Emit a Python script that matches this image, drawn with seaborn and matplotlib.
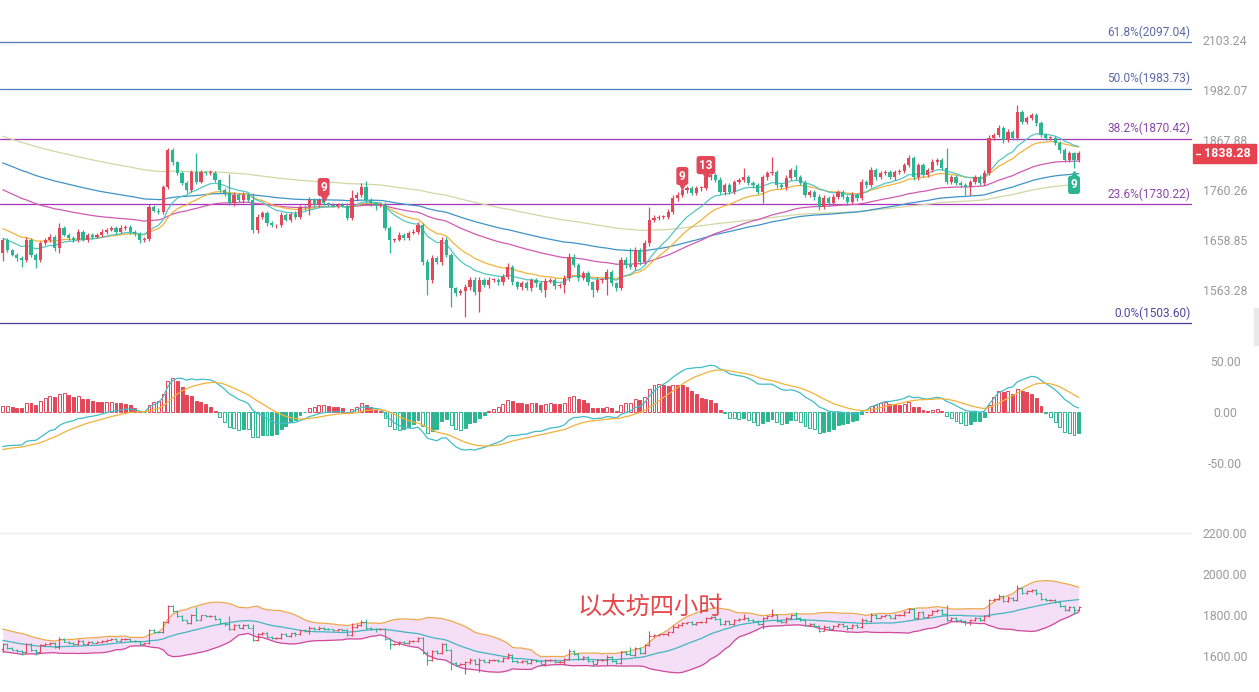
import numpy as np
import pandas as pd
import matplotlib
matplotlib.use("Agg")
import matplotlib.pyplot as plt
import matplotlib.transforms as mtrans
from matplotlib.patches import Rectangle
from matplotlib.ticker import FixedLocator, FixedFormatter, NullLocator
import seaborn as sns

# ---------------- data ----------------
# closes before the visible window (only feed the EMAs / MACD / BOLL)
warmup_close = [
    2045, 2060, 2052, 2040, 2058, 2065, 2048, 2055, 2042, 2050,
    2060, 2047, 2038, 2052, 2066, 2058, 2045, 2040, 2055, 2062,
    2050, 2044, 2057, 2061, 2049, 2053, 2040, 2046, 2059, 2052,
    2048, 2056, 2043, 2050, 2062, 2054, 2047, 2041, 2053, 2045,
    2045, 2038, 2050, 2036, 2042, 2030, 2044, 2028, 2036, 2040,
    2025, 2038, 2032, 2020, 2035, 2028, 2040, 2024, 2030, 2034,
    2022, 2036, 2028, 2018, 2030, 2025, 2033, 2020, 2028, 2022,
    2030, 2017, 2026, 2032, 2015, 2024, 2028, 2012, 2020, 2010,
    2005, 1998, 2000, 1990, 1995, 1985, 1992, 1980, 1986, 1975,
    1982, 1970, 1978, 1965, 1972, 1960, 1968, 1958, 1962, 1950,
    1945, 1935, 1938, 1925, 1920, 1915, 1922, 1905, 1910, 1900,
    1895, 1885, 1888, 1875, 1870, 1865, 1868, 1855, 1860, 1845,
    1845, 1832, 1835, 1822, 1818, 1825, 1810, 1815, 1802, 1795,
    1790, 1778, 1772, 1765, 1768, 1755, 1752, 1745, 1748, 1735,
    1730, 1722, 1718, 1712, 1705, 1700, 1708, 1695, 1690, 1685,
    1675, 1668, 1660, 1662, 1652, 1645, 1650, 1640, 1646, 1633,
]
close = [
    1659, 1639, 1630, 1624, 1620, 1659, 1630, 1620, 1653, 1659,
    1665, 1643, 1683, 1669, 1663, 1659, 1675, 1659, 1669, 1665,
    1669, 1675, 1679, 1683, 1675, 1683, 1685, 1675, 1671, 1659,
    1661, 1726, 1717, 1715, 1766, 1845, 1819, 1796, 1775, 1760,
    1798, 1777, 1798, 1796, 1796, 1781, 1760, 1754, 1733, 1750,
    1739, 1750, 1739, 1679, 1705, 1713, 1692, 1688, 1688, 1709,
    1699, 1711, 1705, 1726, 1724, 1739, 1730, 1739, 1733, 1730,
    1728, 1730, 1728, 1703, 1743, 1750, 1766, 1739, 1733, 1730,
    1730, 1683, 1659, 1659, 1669, 1663, 1673, 1675, 1688, 1616,
    1582, 1624, 1616, 1659, 1630, 1567, 1558, 1562, 1569, 1582,
    1560, 1582, 1573, 1582, 1582, 1578, 1588, 1607, 1578, 1569,
    1576, 1567, 1582, 1576, 1563, 1580, 1582, 1571, 1573, 1586,
    1626, 1610, 1586, 1595, 1578, 1563, 1582, 1582, 1597, 1576,
    1567, 1620, 1610, 1607, 1639, 1616, 1653, 1699, 1703, 1705,
    1705, 1715, 1743, 1750, 1760, 1764, 1754, 1764, 1764, 1787,
    1792, 1781, 1756, 1770, 1756, 1777, 1781, 1787, 1775, 1770,
    1756, 1787, 1796, 1798, 1770, 1766, 1785, 1802, 1787, 1775,
    1750, 1756, 1746, 1724, 1743, 1733, 1746, 1756, 1746, 1735,
    1750, 1743, 1777, 1770, 1802, 1787, 1796, 1798, 1787, 1798,
    1800, 1813, 1828, 1787, 1813, 1792, 1802, 1819, 1824, 1806,
    1777, 1787, 1775, 1770, 1766, 1777, 1787, 1775, 1796, 1872,
    1878, 1894, 1867, 1885, 1872, 1930, 1908, 1917, 1924, 1905,
    1878, 1872, 1872, 1861, 1845, 1824, 1838, 1824, 1838.28,
]
upper_wick = [
    4, 3, 3, 4, 3, 5, 3, 4, 4, 3,
    5, 3, 9, 4, 3, 4, 6, 3, 4, 3,
    4, 5, 3, 4, 3, 6, 4, 3, 3, 4,
    3, 5, 4, 6, 5, 5, 4, 3, 4, 3,
    5, 40, 4, 3, 6, 4, 3, 4, 40, 5,
    4, 5, 4, 15, 5, 4, 3, 4, 3, 5,
    4, 3, 5, 3, 4, 7, 4, 5, 4, 3,
    4, 3, 4, 6, 17, 5, 9, 13, 4, 3,
    4, 5, 3, 4, 5, 3, 4, 5, 6, 4,
    6, 5, 4, 6, 5, 4, 3, 4, 5, 6,
    5, 6, 4, 5, 3, 4, 5, 8, 4, 3,
    4, 5, 4, 3, 4, 5, 4, 3, 4, 5,
    8, 5, 4, 5, 4, 3, 5, 4, 6, 4,
    3, 6, 5, 33, 6, 5, 6, 25, 5, 4,
    4, 5, 6, 5, 6, 4, 5, 4, 5, 2,
    5, 4, 6, 5, 4, 5, 4, 19, 5, 4,
    4, 5, 4, 32, 5, 4, 6, 5, 11, 4,
    5, 4, 4, 5, 6, 4, 5, 5, 4, 4,
    5, 4, 6, 4, 6, 4, 5, 4, 4, 5,
    4, 5, 6, 5, 4, 5, 4, 6, 5, 4,
    43, 5, 4, 4, 5, 4, 5, 4, 6, 6,
    5, 6, 4, 6, 5, 16, 5, 4, 5, 4,
    4, 5, 4, 5, 4, 5, 5, 4, 5,
]
lower_wick = [
    15, 4, 3, 5, 13, 4, 5, 15, 4, 3,
    4, 5, 10, 3, 4, 5, 4, 3, 5, 4,
    3, 4, 5, 3, 4, 3, 4, 5, 4, 6,
    5, 4, 3, 4, 5, 4, 5, 4, 5, 6,
    4, 5, 3, 4, 5, 4, 5, 6, 4, 5,
    4, 5, 4, 6, 6, 4, 5, 4, 5, 4,
    3, 4, 5, 4, 5, 15, 4, 5, 4, 3,
    4, 5, 4, 5, 4, 5, 4, 5, 6, 11,
    4, 5, 26, 4, 3, 5, 4, 3, 5, 6,
    28, 5, 4, 6, 5, 35, 5, 4, 48, 6,
    5, 37, 4, 5, 4, 5, 6, 4, 5, 4,
    5, 4, 5, 6, 4, 13, 4, 5, 4, 15,
    5, 4, 6, 4, 5, 13, 4, 5, 28, 5,
    6, 4, 5, 4, 6, 5, 4, 5, 4, 5,
    4, 5, 4, 5, 4, 6, 5, 4, 5, 4,
    5, 4, 5, 6, 4, 5, 4, 5, 4, 5,
    4, 23, 5, 4, 5, 4, 6, 4, 5, 4,
    5, 4, 6, 5, 4, 5, 4, 5, 4, 6,
    4, 5, 4, 5, 4, 6, 4, 5, 4, 5,
    4, 5, 4, 6, 5, 4, 5, 4, 5, 4,
    5, 4, 5, 4, 16, 16, 5, 4, 5, 4,
    4, 5, 6, 4, 5, 4, 5, 4, 5, 6,
    5, 4, 5, 4, 6, 5, 4, 18, 5,
]
ema_spans = [13, 21, 55, 89, 144]
main_ticks = [2103.24, 1982.07, 1867.88, 1760.26, 1658.85, 1563.28]
main_tick_labels = ["2103.24", "1982.07", "1867.88", "1760.26", "1658.85", "1563.28"]
fib_levels = [2097.04, 1983.73, 1870.42, 1730.22, 1503.60]
fib_labels = ["61.8%(2097.04)", "50.0%(1983.73)", "38.2%(1870.42)", "23.6%(1730.22)", "0.0%(1503.60)"]
macd_ticks = [50, 0, -50]
macd_tick_labels = ["50.00", "0.00", "-50.00"]
boll_ticks = [2200, 2000, 1800, 1600]
boll_tick_labels = ["2200.00", "2000.00", "1800.00", "1600.00"]
last_price = 1838.28
td_marks = [(68, "9", "sell"), (144, "9", "sell"), (149, "13", "sell"), (227, "9", "buy")]
title_text = "以太坊四小时"

# ---------------- style ----------------
RED = "#e2485a"
GREEN = "#2bb592"
EMA_COLORS = {13: "#55c6c2", 21: "#f1b43c", 55: "#d05ab2", 89: "#3e93c7", 144: "#cfd8a4"}
FIB_LINE = ["#4a7cc2", "#4a7cc2", "#a534ba", "#a534ba", "#4b3a9e"]
FIB_TEXT = ["#5b6aa6", "#5b6aa6", "#8a48a8", "#8a48a8", "#4c48a0"]
TICK_COLOR = "#9a9a9a"

sns.set_style("white")
plt.rcParams["font.family"] = ["Roboto", "DejaVu Sans"]

W, H = 1259, 692
fig = plt.figure(figsize=(W / 100, H / 100), dpi=100)


def rect(left, top, right, bottom):
    return [left / W, 1 - bottom / H, (right - left) / W, (bottom - top) / H]


ax1 = fig.add_axes(rect(0, 0, 1192, 335))
ax2 = fig.add_axes(rect(0, 340, 1192, 490))
ax3 = fig.add_axes(rect(0, 520, 1192, 692))

# ---------------- computations ----------------
n_w = len(warmup_close)
full = pd.Series(warmup_close + close, dtype=float)
o = full.shift(1).iloc[n_w:].to_numpy()
c = np.array(close, dtype=float)
hi = np.maximum(o, c) + np.array(upper_wick)
lo = np.minimum(o, c) - np.array(lower_wick)
idx = np.arange(len(close))
is_up = c >= o
cols = np.where(is_up, RED, GREEN)

emas = {p: full.ewm(span=p, adjust=False).mean().iloc[n_w:].to_numpy() for p in ema_spans}

ema12 = full.ewm(span=12, adjust=False).mean()
ema26 = full.ewm(span=26, adjust=False).mean()
dif_full = ema12 - ema26
dea_full = dif_full.ewm(span=9, adjust=False).mean()
hist_full = 2 * (dif_full - dea_full)
dif = dif_full.iloc[n_w:].to_numpy()
dea = dea_full.iloc[n_w:].to_numpy()
hist = hist_full.iloc[n_w:].to_numpy()
hist_prev = hist_full.iloc[n_w - 1:-1].to_numpy()

mid_full = full.rolling(20).mean()
sd_full = full.rolling(20).std(ddof=0)
boll_mid = mid_full.iloc[n_w:].to_numpy()
boll_up = (mid_full + 2 * sd_full).iloc[n_w:].to_numpy()
boll_dn = (mid_full - 2 * sd_full).iloc[n_w:].to_numpy()

XLIM = (-0.572, 252.0)

# ---------------- main panel ----------------
ax1.set_yscale("log")
ax1.set_ylim(1482.4, 2204.1)
for lvl, lc in zip(fib_levels, FIB_LINE):
    ax1.axhline(lvl, color=lc, lw=0.9, zorder=1)
for lvl, lab, tc in zip(fib_levels, fib_labels, FIB_TEXT):
    ax1.annotate(lab, xy=(0.9985, lvl), xycoords=ax1.get_yaxis_transform(),
                 xytext=(0, 2.5), textcoords="offset points", ha="right", va="bottom",
                 fontsize=8.6, color=tc)

for p in ema_spans[::-1]:
    sns.lineplot(x=idx, y=emas[p], ax=ax1, color=EMA_COLORS[p], linewidth=0.9,
                 legend=False, zorder=3)

ax1.vlines(idx, lo, hi, colors=cols, linewidth=0.9, zorder=4)
body_bottom = np.minimum(o, c)
body_h = np.maximum(np.abs(c - o), 1.5)
ax1.bar(idx, body_h, bottom=body_bottom, width=0.68, color=cols, linewidth=0, zorder=5)

# TD sequential style markers
for i, lab, kind in td_marks:
    if kind == "sell":
        col, y, dy, tri = RED, hi[i], 8.0, "v"
    else:
        col, y, dy, tri = GREEN, lo[i], -12, "^"
    ax1.annotate(lab, xy=(i, y), xytext=(0, dy), textcoords="offset points",
                 ha="center", va="center", fontsize=8.5, fontweight="bold", color="white",
                 bbox=dict(boxstyle="round,pad=0.22", fc=col, ec="none"), zorder=7)
    tr = mtrans.offset_copy(ax1.transData, fig=fig, x=0, y=(dy - 7.5 if dy > 0 else dy + 7.5),
                            units="points")
    ax1.plot([i], [y], marker=tri, ms=4, color=col, transform=tr, zorder=7, clip_on=False)

# ---------------- MACD panel ----------------
ax2.set_ylim(-76.5, 70.6)
growing = np.abs(hist) > np.abs(hist_prev)
mcols = np.where(hist >= 0, RED, GREEN)
faces = np.where(growing, "white", mcols)
ax2.bar(idx, hist, width=0.62, color=faces, edgecolor=mcols, linewidth=0.7, zorder=2)
sns.lineplot(x=idx, y=dif, ax=ax2, color="#3fbdc8", linewidth=0.9, legend=False, zorder=3)
sns.lineplot(x=idx, y=dea, ax=ax2, color="#f0b23a", linewidth=0.9, legend=False, zorder=3)

# ---------------- BOLL panel ----------------
ax3.set_ylim(1424.4, 2263.4)
ax3.axhline(2200, color="#eeeeee", lw=1, zorder=0)
ax3.fill_between(idx, boll_dn, boll_up, color="#f5dff6", lw=0, zorder=1)
sns.lineplot(x=idx, y=boll_up, ax=ax3, color="#eea84c", linewidth=0.9, legend=False, zorder=2)
sns.lineplot(x=idx, y=boll_dn, ax=ax3, color="#d0489c", linewidth=0.9, legend=False, zorder=2)
sns.lineplot(x=idx, y=boll_mid, ax=ax3, color="#45b4c2", linewidth=0.9, legend=False, zorder=2)
ax3.vlines(idx, lo, hi, colors=cols, linewidth=0.8, zorder=3)
ax3.hlines(o, idx - 0.45, idx, colors=cols, linewidth=0.8, zorder=3)
ax3.hlines(c, idx, idx + 0.45, colors=cols, linewidth=0.8, zorder=3)

# ---------------- axes cosmetics ----------------
for ax, ticks, labels in [(ax1, main_ticks, main_tick_labels),
                          (ax2, macd_ticks, macd_tick_labels),
                          (ax3, boll_ticks, boll_tick_labels)]:
    ax.set_xlim(*XLIM)
    ax.set_xticks([])
    ax.set_xlabel("")
    ax.set_ylabel("")
    for s in ax.spines.values():
        s.set_visible(False)
    ax.yaxis.tick_right()
    ax.yaxis.set_major_locator(FixedLocator(ticks))
    ax.yaxis.set_major_formatter(FixedFormatter(labels))
    ax.yaxis.set_minor_locator(NullLocator())
    ax.tick_params(axis="y", length=0, pad=23.8, labelsize=8.8, labelcolor=TICK_COLOR)
    for t in ax.get_yticklabels():
        t.set_ha("center")
    ax.set_facecolor("none")

# last price tag
fig.add_artist(Rectangle((1193 / W, 1 - 163 / H), 63 / W, 19 / H, transform=fig.transFigure,
                         color="#e5434f", zorder=10))
fig.add_artist(plt.Line2D([1196 / W, 1200 / W], [1 - 153.5 / H, 1 - 153.5 / H],
                          transform=fig.transFigure, color="white", lw=1, zorder=11))
fig.text(1227 / W, 1 - 153.5 / H, f"{last_price:.2f}", ha="center", va="center",
         fontsize=9, fontweight="bold", color="white", zorder=12)

# small scroll handle at the right edge
fig.add_artist(Rectangle((1254 / W, 1 - 345 / H), 5 / W, 37 / H, transform=fig.transFigure,
                         color="#e9e9e9", zorder=10))

# title text
fig.text(650 / W, 1 - 607 / H, title_text, ha="center", va="center", fontsize=17.5,
         color="#e5474b", family=["Noto Sans CJK SC", "DejaVu Sans"], zorder=12)

fig.savefig("out.png", dpi=100, facecolor="white")
